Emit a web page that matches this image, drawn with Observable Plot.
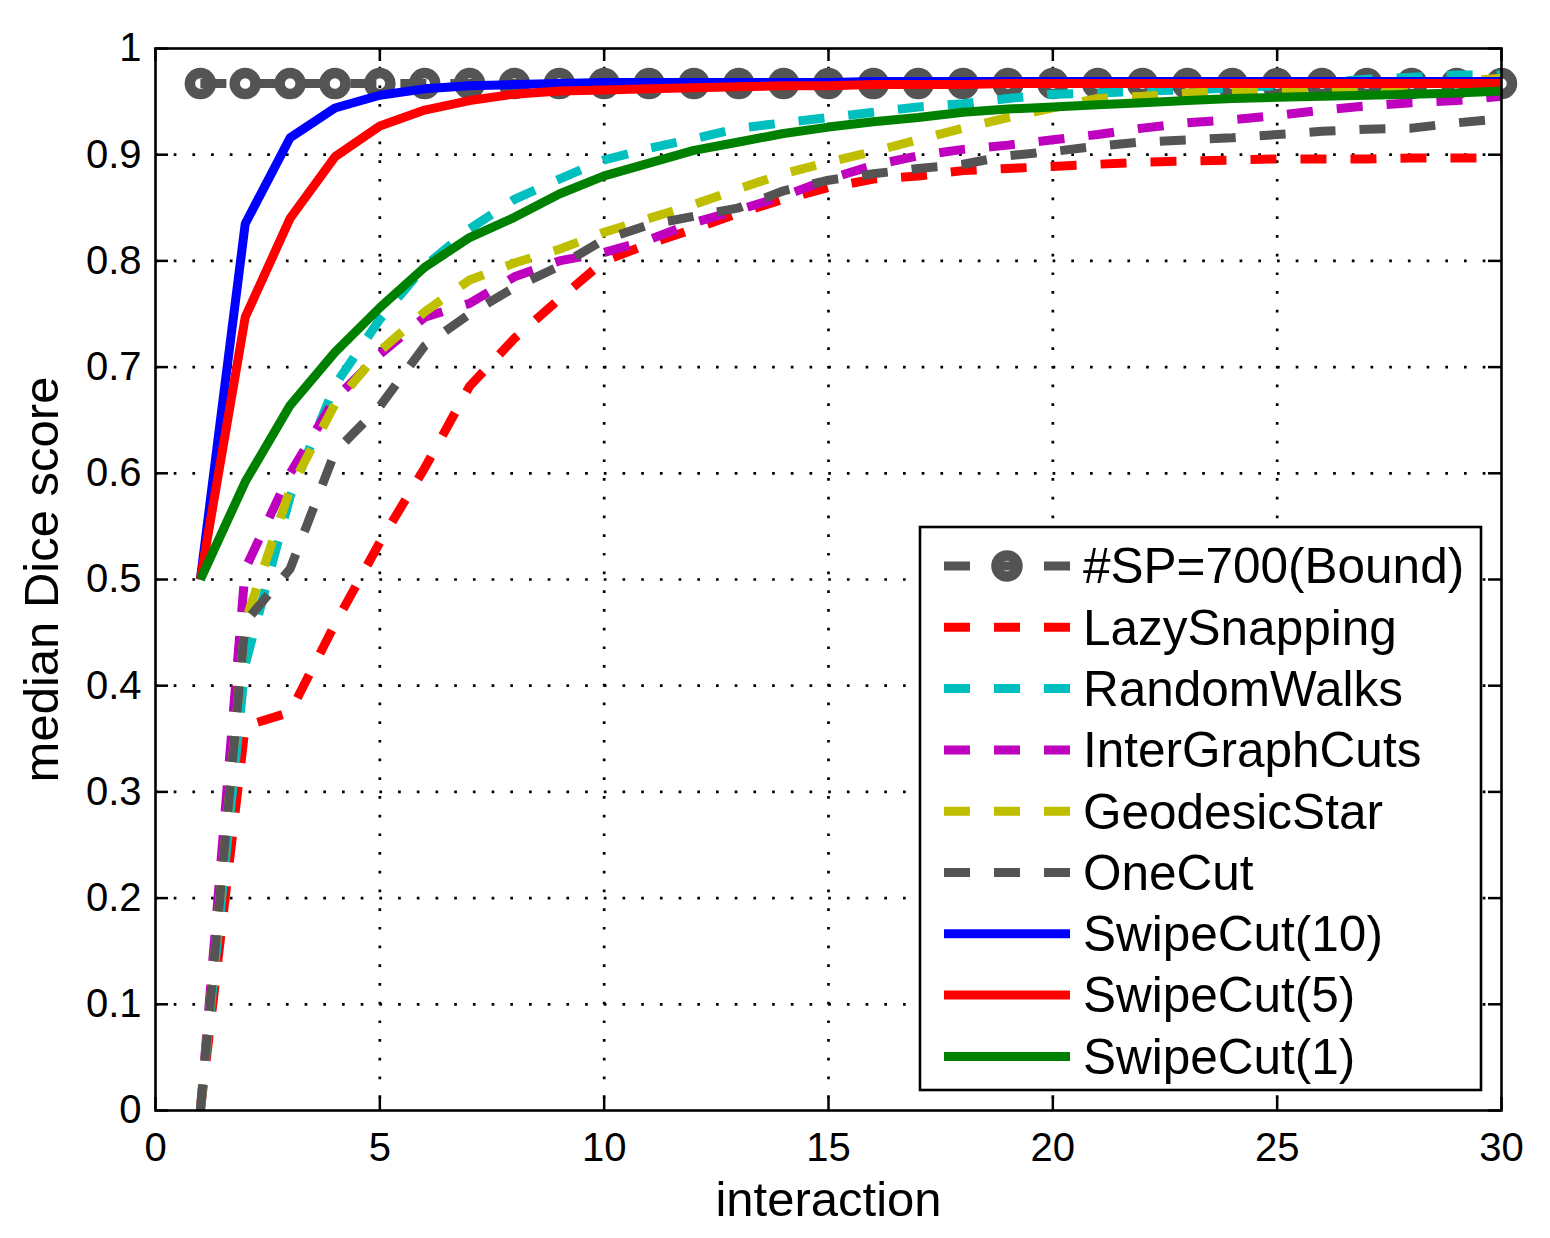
<!DOCTYPE html>
<html><head><meta charset="utf-8">
<script src="https://cdn.jsdelivr.net/npm/d3@7"></script>
<script src="https://cdn.jsdelivr.net/npm/@observablehq/plot@0.6"></script>
<style>body{margin:0;background:#fff} #chart{width:1550px;height:1238px}</style>
</head><body><div id="chart"></div>
<script>
const interactions = [1,2,3,4,5,6,7,8,9,10,11,12,13,14,15,16,17,18,19,20,21,22,23,24,25,26,27,28,29,30];
const xTicks = [0,5,10,15,20,25,30];
const yTicks = [0,0.1,0.2,0.3,0.4,0.5,0.6,0.7,0.8,0.9,1];
const xGrid = [5,10,15,20,25];
const yGrid = [0.1,0.2,0.3,0.4,0.5,0.6,0.7,0.8,0.9];

const bound = [0.967,0.967,0.967,0.967,0.967,0.967,0.967,0.967,0.967,0.967,0.967,0.967,0.967,0.967,0.967,0.967,0.967,0.967,0.967,0.967,0.967,0.967,0.967,0.967,0.967,0.967,0.967,0.967,0.967,0.967];
const lazySnapping = [0,0.362,0.375,0.458,0.535,0.605,0.682,0.727,0.764,0.800,0.816,0.830,0.845,0.858,0.869,0.877,0.880,0.885,0.887,0.889,0.891,0.893,0.894,0.895,0.896,0.896,0.896,0.897,0.897,0.897];
const randomWalks = [0,0.42,0.578,0.683,0.745,0.795,0.830,0.858,0.877,0.895,0.906,0.915,0.925,0.930,0.935,0.940,0.945,0.948,0.953,0.957,0.958,0.960,0.961,0.963,0.965,0.968,0.971,0.973,0.975,0.975];
const interGraphCuts = [0,0.51,0.600,0.670,0.712,0.747,0.760,0.785,0.800,0.808,0.820,0.836,0.848,0.861,0.877,0.890,0.899,0.905,0.909,0.914,0.919,0.925,0.930,0.933,0.937,0.942,0.946,0.949,0.951,0.955];
const geodesicStar = [0,0.46,0.585,0.665,0.715,0.752,0.782,0.798,0.811,0.827,0.840,0.853,0.868,0.882,0.893,0.903,0.914,0.925,0.935,0.944,0.953,0.955,0.958,0.960,0.960,0.961,0.963,0.966,0.969,0.972];
const oneCut = [0,0.46,0.51,0.62,0.663,0.72,0.75,0.775,0.795,0.82,0.834,0.842,0.85,0.866,0.876,0.882,0.887,0.891,0.899,0.903,0.908,0.912,0.914,0.916,0.919,0.922,0.924,0.925,0.930,0.934];
const swipeCut10 = [0.5,0.835,0.916,0.944,0.956,0.962,0.965,0.966,0.967,0.968,0.968,0.968,0.968,0.968,0.968,0.969,0.969,0.969,0.969,0.969,0.969,0.969,0.969,0.969,0.969,0.969,0.969,0.969,0.969,0.969];
const swipeCut5 = [0.5,0.747,0.840,0.898,0.927,0.942,0.951,0.957,0.960,0.961,0.962,0.963,0.964,0.965,0.965,0.966,0.966,0.966,0.967,0.967,0.967,0.967,0.967,0.967,0.967,0.967,0.967,0.967,0.967,0.967];
const swipeCut1 = [0.5,0.592,0.664,0.714,0.756,0.794,0.822,0.841,0.863,0.880,0.892,0.904,0.912,0.920,0.926,0.931,0.935,0.940,0.943,0.945,0.947,0.949,0.951,0.953,0.954,0.955,0.956,0.957,0.958,0.960];

const seriesNames = ["#SP=700(Bound)","LazySnapping","RandomWalks","InterGraphCuts","GeodesicStar","OneCut","SwipeCut(10)","SwipeCut(5)","SwipeCut(1)"];
const seriesValues = [bound,lazySnapping,randomWalks,interGraphCuts,geodesicStar,oneCut,swipeCut10,swipeCut5,swipeCut1];
const seriesColors = ["#545454","#ff0000","#00bfbf","#bf00bf","#bfbf00","#545454","#0000ff","#ff0000","#008000"];
const seriesDashed = [true,true,true,true,true,true,false,false,false];
const seriesMarker = [true,false,false,false,false,false,false,false,false];

const LW = 9, DASH = "26,24";
const W = 1550, H = 1238, ML = 155, MR = 49, MT = 48, MB = 128;
const PW = W - ML - MR, PH = H - MT - MB;
const FONT = "'Liberation Sans', Arial, Helvetica, sans-serif";

const series = seriesNames.map((name, i) => ({
  name, color: seriesColors[i], dashed: seriesDashed[i], marker: seriesMarker[i],
  rows: interactions.map((x, j) => ({x, y: seriesValues[i][j]}))
}));

const marks = [];
marks.push(Plot.ruleX(xGrid, {x: d => d, stroke: "black", strokeWidth: 2.7, strokeDasharray: "2.7,16"}));
marks.push(Plot.ruleY(yGrid, {y: d => d, stroke: "black", strokeWidth: 2.7, strokeDasharray: "2.7,16"}));
for (const s of series) {
  marks.push(Plot.line(s.rows, {x: "x", y: "y", stroke: s.color, strokeWidth: LW,
    strokeDasharray: s.dashed ? DASH : null, strokeLinecap: "butt", strokeLinejoin: "miter"}));
  if (s.marker) marks.push(Plot.dot(s.rows, {x: "x", y: "y", r: 10.5, stroke: s.color, strokeWidth: 10.5, fill: "none"}));
}
// inward ticks on all four sides
marks.push(Plot.tickY(yTicks, {y: d => d, insetRight: PW - 13, stroke: "black", strokeWidth: 2.5}));
marks.push(Plot.tickY(yTicks, {y: d => d, insetLeft: PW - 13, stroke: "black", strokeWidth: 2.5}));
marks.push(Plot.tickX(xTicks, {x: d => d, insetTop: PH - 13, stroke: "black", strokeWidth: 2.5}));
marks.push(Plot.tickX(xTicks, {x: d => d, insetBottom: PH - 13, stroke: "black", strokeWidth: 2.5}));
marks.push(Plot.axisX(xTicks, {tickSize: 0, tickPadding: 22, fontSize: 40, label: null, tickFormat: d => String(d)}));
marks.push(Plot.axisY(yTicks, {tickSize: 0, tickPadding: 14, fontSize: 40, label: null, tickFormat: d => String(d)}));
marks.push(Plot.text(["interaction"], {frameAnchor: "bottom", dy: 90, fontSize: 49, fill: "black", textAnchor: "middle", lineAnchor: "middle"}));
marks.push(Plot.text(["median Dice score"], {frameAnchor: "left", dx: -113, rotate: -90, fontSize: 49, fill: "black", textAnchor: "middle", lineAnchor: "middle"}));
marks.push(Plot.frame({stroke: "black", strokeWidth: 2.6}));

const chart = Plot.plot({
  width: W, height: H,
  marginLeft: ML, marginRight: MR, marginTop: MT, marginBottom: MB,
  x: {domain: [0, 30]},
  y: {domain: [0, 1]},
  style: {fontFamily: FONT, background: "white", color: "black", overflow: "visible"},
  marks
});
document.getElementById("chart").appendChild(chart);

// legend box inside the axes
const svg = d3.select(chart);
const lg = svg.append("g").attr("font-family", FONT).attr("text-anchor", "start");
const LX = 920, LY = 527, LWd = 561, LHt = 563;
lg.append("rect").attr("x", LX).attr("y", LY).attr("width", LWd).attr("height", LHt)
  .attr("fill", "white").attr("stroke", "black").attr("stroke-width", 2.6);
series.forEach((s, i) => {
  const cy = 566 + 61.3 * i;
  lg.append("line").attr("x1", 944).attr("x2", 1070).attr("y1", cy).attr("y2", cy)
    .attr("stroke", s.color).attr("stroke-width", LW)
    .attr("stroke-dasharray", s.dashed ? DASH : null);
  if (s.marker) lg.append("circle").attr("cx", 1007).attr("cy", cy).attr("r", 10.5)
    .attr("fill", "none").attr("stroke", s.color).attr("stroke-width", 10.5);
  lg.append("text").attr("x", 1083).attr("y", cy).attr("dy", "0.35em")
    .attr("text-anchor", "start").attr("font-size", 49.5).attr("fill", "black").text(s.name);
});
</script></body></html>
